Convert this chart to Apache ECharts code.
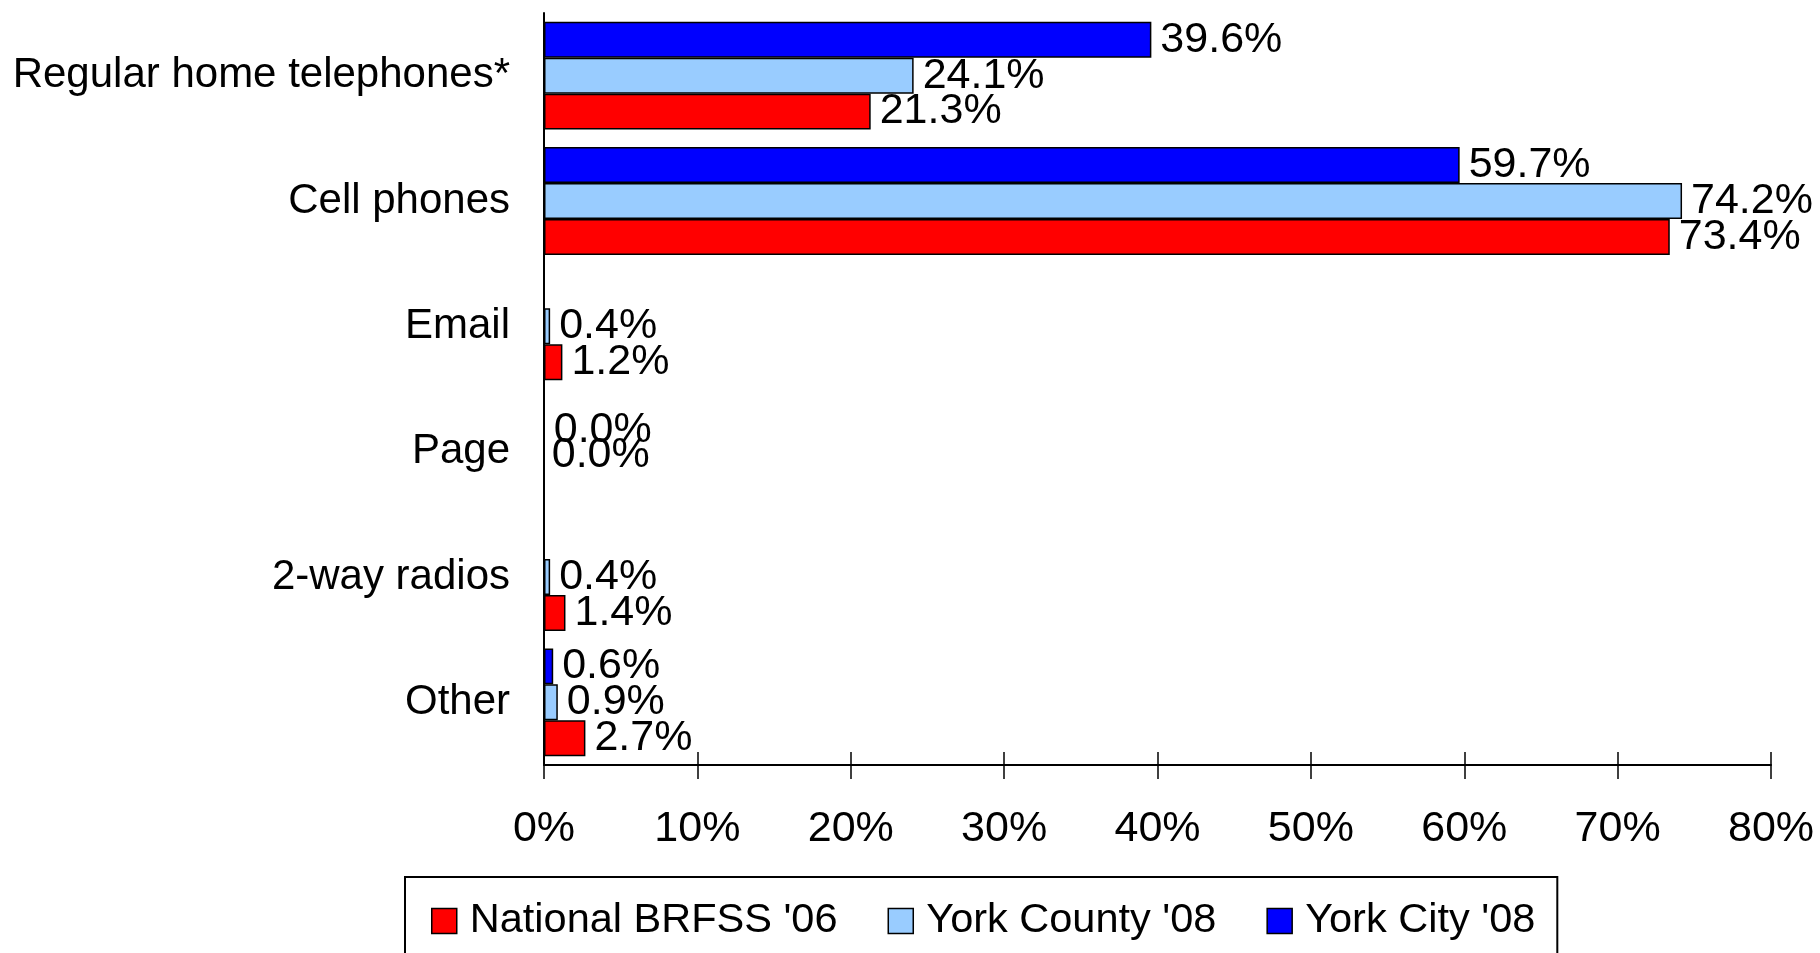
<!DOCTYPE html>
<html>
<head>
<meta charset="utf-8">
<script src="https://cdn.jsdelivr.net/npm/echarts@6/dist/echarts.min.js"></script>
<style>
html,body{margin:0;padding:0;background:#fff;}
#chart{width:1820px;height:953px;}
</style>
</head>
<body>
<div id="chart"></div>
<script>
const categories = ['Regular home telephones*', 'Cell phones', 'Email', 'Page', '2-way radios', 'Other'];
const seriesNames = ["National BRFSS '06", "York County '08", "York City '08"];
const nationalValues = [21.3, 73.4, 1.2, 0.0, 1.4, 2.7];
const yorkCountyValues = [24.1, 74.2, 0.4, 0.0, 0.4, 0.9];
const yorkCityValues = [39.6, 59.7, null, null, null, 0.6];
const xTicks = [0, 10, 20, 30, 40, 50, 60, 70, 80];

const FONT = "'Liberation Sans', Arial, sans-serif";

// label offsets for overlapping zero-value labels (as in the reference)
const labelOffsets = {
  "National BRFSS '06": {3: [-2, -32]},
  "York County '08": {3: [0, -22]}
};

function buildData(name, values) {
  const offs = labelOffsets[name] || {};
  return values.map((v, i) => {
    if (offs[i]) return {value: v, label: {offset: offs[i]}};
    return v;
  });
}

const colors = {
  "National BRFSS '06": '#FF0000',
  "York County '08": '#99CCFF',
  "York City '08": '#0000FF'
};
const valuesByName = {
  "National BRFSS '06": nationalValues,
  "York County '08": yorkCountyValues,
  "York City '08": yorkCityValues
};

// order so York City appears on top within each group
const drawOrder = ["York City '08", "York County '08", "National BRFSS '06"];

const series = drawOrder.map(name => ({
  name: name,
  type: 'bar',
  xAxisIndex: 0,
  yAxisIndex: 0,
  barGap: '0%',
  barCategoryGap: '14%',
  itemStyle: {color: colors[name], borderColor: '#000', borderWidth: 1.5},
  label: {
    show: true,
    position: 'right',
    distance: 9,
    color: '#000',
    fontFamily: FONT,
    fontSize: 43,
    formatter: p => (p.value == null ? '' : Number(p.value).toFixed(1) + '%')
  },
  emphasis: {disabled: true},
  data: buildData(name, valuesByName[name])
}));

const chart = echarts.init(document.getElementById('chart'), null, {renderer: 'canvas'});
chart.setOption({
  animation: false,
  backgroundColor: '#fff',
  grid: {left: 544, right: 49, top: 13, bottom: 188, containLabel: false},
  legend: {
    data: seriesNames.map(n => ({name: n, itemStyle: {color: colors[n], borderColor: '#000', borderWidth: 1.5}})),
    left: 405,
    top: 877,
    orient: 'horizontal',
    itemWidth: 25,
    itemHeight: 25,
    itemGap: 50,
    icon: 'rect',
    padding: [21, 22, 40, 26],
    borderColor: '#000',
    borderWidth: 2,
    selectedMode: false,
    textStyle: {fontFamily: FONT, fontSize: 41.5, color: '#000', padding: [0, 0, 0, 8], lineHeight: 46}
  },
  xAxis: [{
    type: 'value',
    min: xTicks[0],
    max: xTicks[xTicks.length - 1],
    interval: 10,
    position: 'bottom',
    splitLine: {show: false},
    axisLine: {show: true, lineStyle: {color: '#000', width: 2}},
    axisTick: {show: true, inside: false, length: 14, lineStyle: {color: '#000', width: 1.5}},
    axisLabel: {
      show: true, margin: 43, color: '#000', fontFamily: FONT, fontSize: 43,
      formatter: v => v + '%'
    }
  }, {
    type: 'value',
    min: xTicks[0],
    max: xTicks[xTicks.length - 1],
    interval: 10,
    position: 'bottom',
    offset: 0,
    splitLine: {show: false},
    axisLine: {show: false},
    axisTick: {show: true, inside: true, length: 13, lineStyle: {color: '#000', width: 1.5}},
    axisLabel: {show: false}
  }],
  yAxis: {
    type: 'category',
    data: categories,
    inverse: true,
    axisLine: {show: true, onZero: false, lineStyle: {color: '#000', width: 2}},
    axisTick: {show: false},
    axisLabel: {margin: 34, color: '#000', fontFamily: FONT, fontSize: 42, padding: [5, 0, 0, 0]},
    splitLine: {show: false}
  },
  series: series
});
</script>
</body>
</html>
